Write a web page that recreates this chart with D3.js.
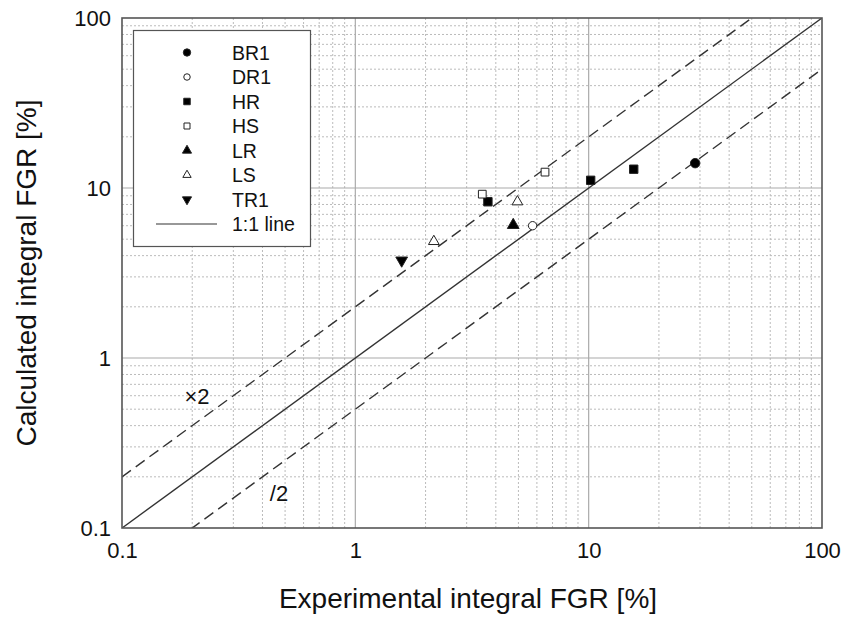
<!DOCTYPE html>
<html><head><meta charset="utf-8">
<script src="https://cdn.jsdelivr.net/npm/d3@7"></script>
<style>body{margin:0;background:#fff}svg{display:block}text{font-family:"Liberation Sans",Arial,sans-serif;fill:#111}</style>
</head><body>
<svg id="c" width="843" height="623"></svg>
<script>
// Data: [experimental FGR %, calculated FGR %]
const BR1 = [[28.6, 14.0]];
const DR1 = [[5.75, 6.0]];
const HR  = [[3.7, 8.3], [10.2, 11.1], [15.6, 12.9]];
const HS  = [[3.5, 9.2], [6.5, 12.4]];
const LR  = [[4.75, 6.05]];
const LS  = [[2.17, 4.85], [4.95, 8.3]];
const TR1 = [[1.58, 3.75]];
const seriesNames = ["BR1","DR1","HR","HS","LR","LS","TR1"];
const xTicks = [0.1, 1, 10, 100];
const yTicks = [0.1, 1, 10, 100];
const tickLabels = ["0.1","1","10","100"];

const svg = d3.select("#c");
const L = 122, R = 822, T = 18, B = 528;
const x = d3.scaleLog().domain([0.1, 100]).range([L, R]);
const y = d3.scaleLog().domain([0.1, 100]).range([B, T]);

// minor grid
const minors = [];
for (const d of [0.1, 1, 10]) for (let k = 2; k <= 9; k++) minors.push(d * k);
const g = svg.append("g");
g.selectAll(".vx").data(minors).join("line")
  .attr("x1", d => x(d)).attr("x2", d => x(d)).attr("y1", T).attr("y2", B)
  .attr("stroke", "#bbb").attr("stroke-width", 1).attr("stroke-dasharray", "2,2");
g.selectAll(".hy").data(minors).join("line")
  .attr("y1", d => y(d)).attr("y2", d => y(d)).attr("x1", L).attr("x2", R)
  .attr("stroke", "#bbb").attr("stroke-width", 1).attr("stroke-dasharray", "2,2");
// major grid
g.selectAll(".mx").data([1, 10]).join("line")
  .attr("x1", d => x(d)).attr("x2", d => x(d)).attr("y1", T).attr("y2", B)
  .attr("stroke", "#aaa").attr("stroke-width", 1.2);
g.selectAll(".my").data([1, 10]).join("line")
  .attr("y1", d => y(d)).attr("y2", d => y(d)).attr("x1", L).attr("x2", R)
  .attr("stroke", "#aaa").attr("stroke-width", 1.2);

// reference lines
svg.append("clipPath").attr("id", "pc").append("rect")
  .attr("x", L).attr("y", T).attr("width", R - L).attr("height", B - T);
const lines = svg.append("g").attr("clip-path", "url(#pc)");
const refs = [{f: 1, dash: null}, {f: 2, dash: "11,6"}, {f: 0.5, dash: "11,6"}];
refs.forEach(r => {
  lines.append("line")
    .attr("x1", x(0.1)).attr("y1", y(0.1 * r.f))
    .attr("x2", x(100)).attr("y2", y(100 * r.f))
    .attr("stroke", "#333").attr("stroke-width", 1.4)
    .attr("stroke-dasharray", r.dash);
});

// axes
const xAxis = d3.axisBottom(x).tickValues(xTicks).tickFormat((d, i) => tickLabels[i]).tickSize(0).tickPadding(14);
const yAxis = d3.axisLeft(y).tickValues(yTicks).tickFormat((d, i) => tickLabels[i]).tickSize(0).tickPadding(11);
const gx = svg.append("g").attr("transform", `translate(0,${B})`).call(xAxis);
const gy = svg.append("g").attr("transform", `translate(${L},0)`).call(yAxis);
[gx, gy].forEach(a => { a.select(".domain").remove(); a.selectAll("text").attr("font-size", 22).attr("fill", "#111").attr("font-family", "Liberation Sans, Arial, sans-serif"); });

// frame
svg.append("rect").attr("x", L).attr("y", T).attr("width", R - L).attr("height", B - T)
  .attr("fill", "none").attr("stroke", "#555").attr("stroke-width", 1.6);

// markers
const sym = {
  BR1: {type: d3.symbolCircle, fill: "#000", size: 70},
  DR1: {type: d3.symbolCircle, fill: "#fff", size: 55},
  HR:  {type: d3.symbolSquare, fill: "#000", size: 70},
  HS:  {type: d3.symbolSquare, fill: "#fff", size: 60},
  LR:  {type: d3.symbolTriangle, fill: "#000", size: 60},
  LS:  {type: d3.symbolTriangle, fill: "#fff", size: 50},
  TR1: {type: d3.symbolTriangle, fill: "#000", size: 60, rot: 180}
};
const data = {BR1, DR1, HR, HS, LR, LS, TR1};
const pts = svg.append("g");
seriesNames.forEach(n => {
  const s = sym[n];
  pts.selectAll(".p" + n).data(data[n]).join("path")
    .attr("d", d3.symbol().type(s.type).size(s.size))
    .attr("transform", d => `translate(${x(d[0])},${y(d[1])})` + (s.rot ? ` rotate(${s.rot})` : ""))
    .attr("fill", s.fill).attr("stroke", "#222").attr("stroke-width", 1);
});

// legend
const lg = svg.append("g");
lg.append("rect").attr("x", 133.5).attr("y", 30.5).attr("width", 177).attr("height", 216)
  .attr("fill", "#fff").attr("stroke", "#555").attr("stroke-width", 1.2);
const rowY = i => 52.5 + i * 24.5;
seriesNames.forEach((n, i) => {
  const s = sym[n];
  lg.append("path").attr("d", d3.symbol().type(s.type).size(s.size * 0.6))
    .attr("transform", `translate(187,${rowY(i)})` + (s.rot ? ` rotate(${s.rot})` : ""))
    .attr("fill", s.fill).attr("stroke", "#222").attr("stroke-width", 1);
  lg.append("text").attr("x", 232).attr("y", rowY(i)).attr("dy", "0.36em")
    .attr("font-size", 19.5).text(n);
});
lg.append("line").attr("x1", 156).attr("x2", 217).attr("y1", rowY(7)).attr("y2", rowY(7))
  .attr("stroke", "#333").attr("stroke-width", 1.2);
lg.append("text").attr("x", 232).attr("y", rowY(7)).attr("dy", "0.36em")
  .attr("font-size", 19.5).text("1:1 line");

// annotations
svg.append("text").attr("x", 197).attr("y", 396).attr("dy", "0.36em").attr("text-anchor", "middle")
  .attr("font-size", 22).text("×2");
svg.append("text").attr("x", 279).attr("y", 493).attr("dy", "0.36em").attr("text-anchor", "middle")
  .attr("font-size", 22).text("/2");

// axis titles
svg.append("text").attr("x", 468).attr("y", 608).attr("text-anchor", "middle")
  .attr("font-size", 28).text("Experimental integral FGR [%]");
svg.append("text").attr("transform", "translate(36,273) rotate(-90)").attr("text-anchor", "middle")
  .attr("font-size", 28).text("Calculated integral FGR [%]");
</script>
</body></html>
